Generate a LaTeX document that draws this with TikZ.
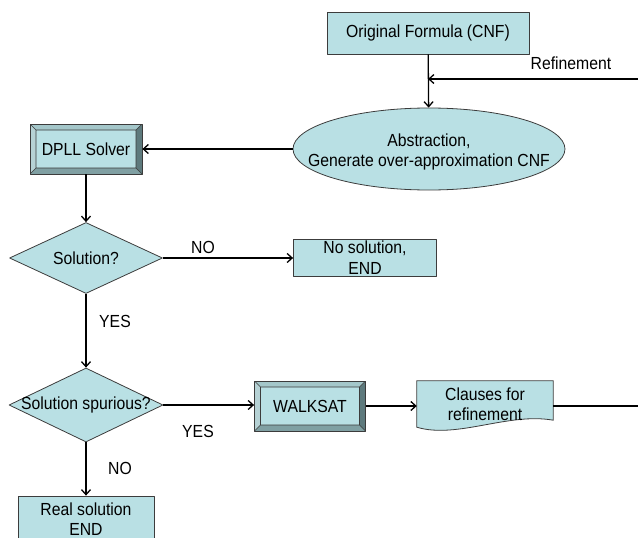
\documentclass[tikz,border=0pt]{standalone}
\usepackage{fontspec}
\setmainfont[FakeStretch=0.9]{Liberation Sans}
\usetikzlibrary{shapes.geometric,arrows.meta,backgrounds}
\definecolor{flowfill}{RGB}{185,224,228}
\definecolor{boxline}{RGB}{60,60,60}
\definecolor{bevellight}{RGB}{164,199,202}
\definecolor{bevelmid}{RGB}{128,160,163}
\definecolor{beveldark}{RGB}{94,122,125}
\tikzset{
	procbox/.style={rectangle, draw=boxline, fill=flowfill, line width=0.8pt, align=center, inner sep=1pt},
	bevelbox/.style={procbox, path picture={
			\coordinate (bnw) at (path picture bounding box.north west);
			\coordinate (bne) at (path picture bounding box.north east);
			\coordinate (bsw) at (path picture bounding box.south west);
			\coordinate (bse) at (path picture bounding box.south east);
			\fill[bevellight] (bnw) -- (bne) -- ([shift={(-6pt,-6pt)}]bne) -- ([shift={(6pt,-6pt)}]bnw) -- cycle;
			\fill[bevellight!80!white] (bnw) -- (bsw) -- ([shift={(6pt,6pt)}]bsw) -- ([shift={(6pt,-6pt)}]bnw) -- cycle;
			\fill[bevelmid] (bsw) -- (bse) -- ([shift={(-6pt,6pt)}]bse) -- ([shift={(6pt,6pt)}]bsw) -- cycle;
			\fill[beveldark] (bse) -- (bne) -- ([shift={(-6pt,-6pt)}]bne) -- ([shift={(-6pt,6pt)}]bse) -- cycle;
			\draw[boxline, line width=0.6pt] ([shift={(6pt,-6pt)}]bnw) rectangle ([shift={(-6pt,6pt)}]bse)
			(bnw) -- ++(6pt,-6pt) (bne) -- ++(-6pt,-6pt) (bsw) -- ++(6pt,6pt) (bse) -- ++(-6pt,6pt);
		}},
	decision/.style={diamond, draw=boxline, fill=flowfill, line width=0.8pt, inner sep=0pt},
	abstr/.style={ellipse, draw=boxline, fill=flowfill, line width=0.8pt, inner sep=0pt},
	docbox/.style={rectangle, align=center, inner sep=1pt},
	tag/.style={inner sep=0pt},
	flow/.style={->, line width=1.3pt},
	loopline/.style={line width=2.7pt}
}
\begin{document}
\begin{tikzpicture}[x=1pt, y=-1pt, font=\fontsize{17.5}{20.5}\selectfont, line join=round, >={Straight Barb[length=5pt,width=9pt]}]
	\useasboundingbox (0,0) rectangle (638,538);
	\node[procbox, minimum width=202pt, minimum height=42pt] (orig) at (428,33) {Original Formula (CNF)};
	\node[abstr, minimum width=272pt, minimum height=82pt, label={[align=center, yshift=-3pt]center:Abstraction,\\Generate over-approximation CNF}] (abst) at (429,149) {};
	\node[bevelbox, minimum width=112pt, minimum height=50pt] (dpll) at (86,149) {DPLL Solver};
	\node[decision, minimum width=153pt, minimum height=71pt, label=center:Solution?] (sol) at (86,258) {};
	\node[procbox, minimum width=143pt, minimum height=37pt] (nosol) at (365,257.5) {No solution,\\END};
	\node[decision, minimum width=154pt, minimum height=74pt, label=center:Solution spurious?] (spur) at (86,405) {};
	\node[bevelbox, minimum width=111pt, minimum height=50pt] (walk) at (310,406) {WALKSAT};
	\node[docbox, minimum width=136pt, minimum height=46pt] (clauses) at (485,404) {Clauses for\\refinement};
	\begin{scope}[on background layer]
		\draw[boxline, fill=flowfill, line width=0.8pt] (clauses.north west) -- (clauses.north east) -- ([yshift=7pt]clauses.south east)
		.. controls +(-45pt,8pt) and +(40pt,-12pt) .. (clauses.south west) -- cycle;
	\end{scope}
	\node[procbox, minimum width=136pt, minimum height=46pt] (real) at (86,519) {Real solution\\END};
	\node[tag] (refine) at (571,63) {Refinement};
	\node[tag] (no1) at (203,247) {NO};
	\node[tag] (yes1) at (115,321) {YES};
	\node[tag] (yes2) at (198,431) {YES};
	\node[tag] (no2) at (120,468) {NO};
	\coordinate (ref) at (638,79);
	\draw[flow] (orig) -- (abst);
	\draw[flow] (ref) -- (ref -| orig.south);
	\draw[flow] (abst) -- (dpll);
	\draw[flow] (dpll) -- (sol);
	\draw[flow] (sol.east) -- (sol.east -| nosol.west);
	\draw[flow] (sol) -- (spur);
	\draw[flow] (spur.east) -- (spur.east -| walk.west);
	\draw[flow] (walk.east) -- (walk.east -| clauses.west);
	\draw[flow] (spur) -- (real);
	\draw[loopline] (walk.east -| clauses.east) -- (walk.east -| ref);
\end{tikzpicture}
\end{document}
